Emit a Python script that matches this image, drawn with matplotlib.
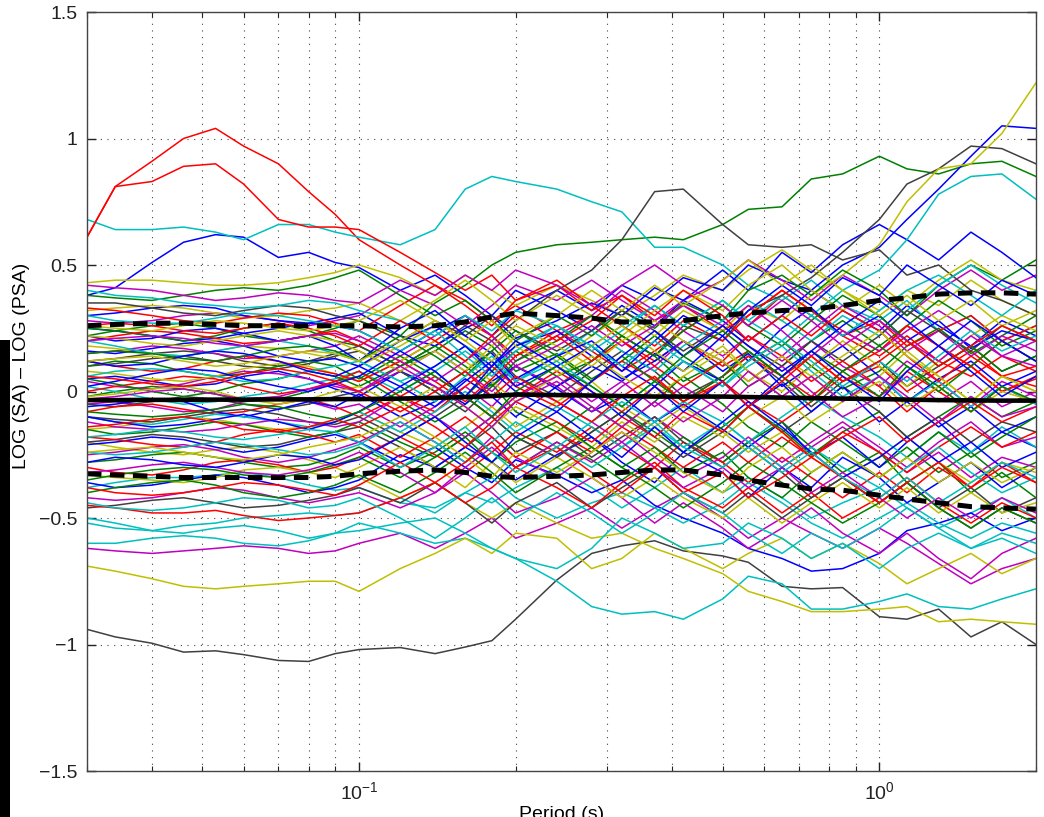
import matplotlib
matplotlib.use("Agg")
import matplotlib.pyplot as plt
from matplotlib.ticker import FixedLocator, NullFormatter, FuncFormatter
from matplotlib.patches import Rectangle

plt.rcParams['font.family'] = ['Liberation Sans', 'DejaVu Sans']
plt.rcParams['mathtext.fontset'] = 'custom'
plt.rcParams['mathtext.rm'] = 'Liberation Sans'
plt.rcParams['mathtext.it'] = 'Liberation Sans:italic'

# periods (s) where every residual curve is sampled
PERIODS = [0.03, 0.034, 0.04, 0.046, 0.053, 0.06, 0.07, 0.08, 0.09, 0.1,
           0.12, 0.14, 0.16, 0.18, 0.2, 0.24, 0.28, 0.32, 0.37, 0.42,
           0.5, 0.56, 0.65, 0.74, 0.85, 1.0, 1.13, 1.3, 1.5, 1.72, 2.0]

# residual curves, grouped by the MATLAB colour they were drawn in
blue_curves = [
    [0.38, 0.41, 0.51, 0.59, 0.62, 0.61, 0.53, 0.55, 0.51, 0.49, 0.40, 0.46, 0.38, 0.30, 0.40, 0.32, 0.24, 0.34, 0.26, 0.36, 0.28, 0.20, 0.30, 0.40, 0.32, 0.24, 0.34, 0.26, 0.18, 0.28, 0.22],
    [0.25, 0.24, 0.22, 0.20, 0.21, 0.23, 0.25, 0.27, 0.26, 0.24, 0.16, 0.24, 0.30, 0.22, 0.32, 0.40, 0.32, 0.42, 0.36, 0.45, 0.40, 0.50, 0.44, 0.40, 0.50, 0.57, 0.68, 0.80, 0.93, 1.05, 1.04],
    [0.30, 0.31, 0.33, 0.34, 0.33, 0.30, 0.28, 0.27, 0.29, 0.31, 0.22, 0.18, 0.25, 0.30, 0.21, 0.28, 0.35, 0.30, 0.41, 0.36, 0.48, 0.40, 0.55, 0.47, 0.58, 0.66, 0.60, 0.52, 0.63, 0.55, 0.45],
    [0.05, 0.06, 0.04, 0.02, 0.03, 0.06, 0.08, 0.05, 0.01, -0.02, 0.08, 0.02, -0.05, 0.04, 0.10, 0.01, -0.08, -0.02, -0.12, -0.05, -0.15, -0.22, -0.12, -0.25, -0.18, -0.30, -0.20, -0.12, -0.24, -0.16, -0.22],
    [-0.21, -0.20, -0.18, -0.19, -0.22, -0.24, -0.22, -0.19, -0.17, -0.20, -0.28, -0.22, -0.30, -0.36, -0.27, -0.33, -0.40, -0.35, -0.45, -0.50, -0.56, -0.62, -0.66, -0.71, -0.70, -0.64, -0.55, -0.52, -0.48, -0.55, -0.50],
    [0.16, 0.15, 0.17, 0.19, 0.20, 0.18, 0.14, 0.12, 0.13, 0.10, 0.20, 0.26, 0.18, 0.10, 0.18, 0.24, 0.14, 0.05, 0.12, 0.20, 0.08, 0.15, 0.02, 0.10, 0.18, 0.06, -0.04, 0.05, 0.12, 0.02, 0.08],
    [-0.06, -0.05, -0.03, -0.04, -0.08, -0.10, -0.07, -0.04, -0.06, -0.01, -0.10, -0.04, 0.05, -0.02, -0.10, 0.02, 0.10, 0.04, 0.15, 0.08, 0.22, 0.12, 0.25, 0.33, 0.22, 0.30, 0.20, 0.28, 0.17, 0.24, 0.20],
    [-0.36, -0.38, -0.37, -0.35, -0.33, -0.34, -0.37, -0.40, -0.38, -0.35, -0.25, -0.30, -0.22, -0.28, -0.35, -0.25, -0.18, -0.28, -0.36, -0.24, -0.32, -0.42, -0.30, -0.38, -0.26, -0.34, -0.44, -0.36, -0.28, -0.38, -0.30],
    [0.22, 0.20, 0.21, 0.24, 0.25, 0.23, 0.20, 0.22, 0.18, 0.12, 0.25, 0.32, 0.22, 0.15, 0.05, 0.14, 0.20, 0.10, 0.02, 0.12, 0.04, -0.06, 0.03, -0.08, 0.02, -0.12, -0.04, -0.14, -0.06, -0.16, -0.10],
    [-0.10, -0.12, -0.14, -0.13, -0.11, -0.09, -0.12, -0.15, -0.12, -0.08, 0.02, -0.06, 0.04, 0.12, 0.02, 0.10, 0.18, 0.08, 0.20, 0.30, 0.22, 0.32, 0.42, 0.34, 0.45, 0.38, 0.50, 0.42, 0.34, 0.44, 0.38],
    [0.12, 0.10, 0.11, 0.14, 0.16, 0.15, 0.12, 0.08, 0.06, 0.10, 0.02, 0.10, 0.18, 0.08, 0.00, -0.08, 0.04, 0.14, 0.24, 0.14, 0.26, 0.18, 0.08, 0.16, 0.26, 0.36, 0.28, 0.18, 0.28, 0.20, 0.12],
    [-0.28, -0.26, -0.27, -0.29, -0.30, -0.28, -0.25, -0.26, -0.29, -0.27, -0.18, -0.10, -0.20, -0.28, -0.18, -0.08, -0.18, -0.26, -0.14, -0.24, -0.12, -0.04, -0.14, -0.24, -0.34, -0.26, -0.18, -0.28, -0.20, -0.30, -0.24],
    [0.02, 0.04, 0.07, 0.09, 0.08, 0.05, 0.02, 0.00, 0.03, 0.06, 0.16, 0.08, -0.02, 0.10, 0.20, 0.10, 0.00, -0.10, 0.02, -0.08, 0.04, -0.06, 0.06, 0.16, 0.06, -0.04, 0.08, 0.18, 0.08, -0.02, 0.06],
]

green_curves = [
    [0.22, 0.24, 0.26, 0.27, 0.25, 0.22, 0.20, 0.22, 0.25, 0.28, 0.22, 0.35, 0.42, 0.50, 0.55, 0.58, 0.59, 0.60, 0.61, 0.60, 0.66, 0.72, 0.73, 0.84, 0.86, 0.93, 0.88, 0.86, 0.90, 0.91, 0.85],
    [0.25, 0.24, 0.22, 0.20, 0.22, 0.25, 0.27, 0.24, 0.20, 0.18, 0.10, 0.16, 0.24, 0.18, 0.08, 0.15, 0.05, 0.12, 0.22, 0.14, 0.04, 0.12, 0.20, 0.10, 0.01, 0.08, 0.18, 0.25, 0.15, 0.22, 0.30],
    [-0.02, 0.00, 0.02, 0.01, -0.01, -0.04, -0.03, 0.00, 0.04, 0.06, -0.04, -0.12, -0.05, 0.03, -0.08, -0.16, -0.06, -0.14, -0.04, 0.06, -0.05, -0.14, -0.22, -0.12, -0.20, -0.30, -0.22, -0.32, -0.24, -0.34, -0.28],
    [-0.28, -0.27, -0.25, -0.24, -0.26, -0.28, -0.30, -0.29, -0.26, -0.22, -0.30, -0.24, -0.16, -0.24, -0.30, -0.20, -0.27, -0.35, -0.26, -0.18, -0.28, -0.20, -0.12, -0.22, -0.32, -0.24, -0.36, -0.28, -0.40, -0.32, -0.42],
    [0.38, 0.37, 0.36, 0.38, 0.40, 0.41, 0.40, 0.42, 0.45, 0.48, 0.38, 0.30, 0.36, 0.28, 0.20, 0.30, 0.22, 0.32, 0.25, 0.35, 0.28, 0.40, 0.46, 0.38, 0.48, 0.40, 0.30, 0.42, 0.50, 0.44, 0.52],
    [0.10, 0.12, 0.11, 0.08, 0.06, 0.07, 0.10, 0.12, 0.10, 0.05, 0.14, 0.06, -0.02, 0.08, 0.16, 0.06, 0.12, 0.22, 0.14, 0.04, 0.12, 0.02, 0.10, 0.20, 0.28, 0.18, 0.26, 0.36, 0.28, 0.18, 0.24],
    [-0.15, -0.17, -0.16, -0.14, -0.12, -0.13, -0.16, -0.18, -0.16, -0.12, -0.20, -0.26, -0.18, -0.10, -0.18, -0.26, -0.16, -0.08, -0.16, -0.24, -0.14, -0.06, -0.15, -0.25, -0.16, -0.08, -0.18, -0.10, -0.02, -0.10, -0.04],
    [0.05, 0.03, 0.00, -0.02, 0.00, 0.03, 0.05, 0.08, 0.06, 0.02, 0.10, 0.18, 0.10, 0.02, 0.12, 0.20, 0.30, 0.22, 0.14, 0.24, 0.34, 0.26, 0.18, 0.28, 0.38, 0.30, 0.20, 0.10, 0.18, 0.08, 0.14],
    [-0.40, -0.38, -0.36, -0.35, -0.37, -0.40, -0.42, -0.40, -0.37, -0.33, -0.40, -0.32, -0.24, -0.32, -0.40, -0.30, -0.22, -0.30, -0.38, -0.46, -0.36, -0.28, -0.36, -0.44, -0.52, -0.44, -0.36, -0.46, -0.54, -0.46, -0.52],
    [0.15, 0.16, 0.15, 0.13, 0.12, 0.14, 0.17, 0.18, 0.16, 0.12, 0.22, 0.14, 0.06, 0.16, 0.24, 0.14, 0.04, 0.14, 0.04, -0.04, 0.06, 0.16, 0.06, -0.04, 0.08, -0.02, 0.10, 0.00, 0.10, 0.20, 0.12],
    [-0.35, -0.33, -0.31, -0.30, -0.31, -0.33, -0.34, -0.32, -0.29, -0.26, -0.34, -0.26, -0.18, -0.28, -0.20, -0.12, -0.22, -0.30, -0.22, -0.32, -0.24, -0.34, -0.42, -0.32, -0.24, -0.34, -0.26, -0.16, -0.26, -0.18, -0.10],
    [-0.08, -0.09, -0.10, -0.09, -0.07, -0.05, -0.06, -0.09, -0.11, -0.08, 0.00, 0.08, -0.02, -0.10, 0.00, 0.10, 0.02, -0.06, 0.04, 0.14, 0.24, 0.16, 0.06, 0.16, 0.08, 0.18, 0.10, 0.02, -0.08, 0.02, -0.04],
]

red_curves = [
    [0.61, 0.81, 0.91, 1.00, 1.04, 0.97, 0.90, 0.79, 0.70, 0.60, 0.50, 0.42, 0.36, 0.28, 0.34, 0.24, 0.30, 0.20, 0.12, 0.20, 0.10, 0.16, 0.06, 0.14, 0.04, 0.10, 0.00, 0.08, 0.16, 0.06, 0.02],
    [0.61, 0.81, 0.83, 0.89, 0.90, 0.82, 0.68, 0.65, 0.65, 0.64, 0.55, 0.47, 0.40, 0.46, 0.36, 0.42, 0.32, 0.38, 0.28, 0.34, 0.24, 0.30, 0.40, 0.32, 0.22, 0.28, 0.18, 0.24, 0.30, 0.20, 0.26],
    [0.20, 0.22, 0.24, 0.23, 0.21, 0.19, 0.20, 0.22, 0.24, 0.20, 0.12, 0.20, 0.28, 0.22, 0.14, 0.24, 0.16, 0.08, 0.16, 0.24, 0.34, 0.26, 0.38, 0.30, 0.22, 0.14, 0.22, 0.12, 0.06, 0.14, 0.08],
    [-0.08, -0.06, -0.05, -0.07, -0.09, -0.08, -0.05, -0.03, -0.06, -0.10, -0.02, 0.06, -0.02, -0.10, -0.02, 0.08, 0.00, -0.08, 0.02, -0.06, 0.04, -0.04, -0.12, -0.04, 0.06, -0.02, 0.08, 0.00, -0.08, 0.02, -0.05],
    [-0.30, -0.32, -0.33, -0.31, -0.28, -0.27, -0.29, -0.32, -0.30, -0.26, -0.18, -0.25, -0.32, -0.24, -0.16, -0.24, -0.14, -0.22, -0.30, -0.20, -0.28, -0.36, -0.26, -0.34, -0.42, -0.32, -0.40, -0.30, -0.38, -0.28, -0.36],
    [0.33, 0.32, 0.30, 0.28, 0.27, 0.29, 0.31, 0.30, 0.27, 0.24, 0.34, 0.42, 0.34, 0.26, 0.36, 0.44, 0.34, 0.26, 0.18, 0.28, 0.20, 0.30, 0.40, 0.32, 0.24, 0.16, 0.26, 0.18, 0.10, 0.20, 0.12],
    [0.00, 0.02, 0.04, 0.06, 0.05, 0.02, -0.01, 0.01, 0.04, 0.08, -0.02, -0.08, 0.02, 0.10, 0.02, -0.06, 0.04, 0.12, 0.05, -0.04, 0.06, 0.14, 0.06, -0.02, 0.08, 0.16, 0.26, 0.18, 0.10, 0.00, 0.06],
    [-0.45, -0.46, -0.48, -0.48, -0.47, -0.49, -0.51, -0.50, -0.49, -0.48, -0.42, -0.36, -0.44, -0.38, -0.30, -0.38, -0.46, -0.36, -0.28, -0.38, -0.46, -0.38, -0.48, -0.40, -0.50, -0.42, -0.34, -0.44, -0.52, -0.44, -0.50],
    [0.12, 0.10, 0.08, 0.09, 0.12, 0.14, 0.12, 0.09, 0.07, 0.04, 0.12, 0.04, -0.04, 0.05, 0.14, 0.22, 0.12, 0.20, 0.10, 0.02, 0.12, 0.22, 0.14, 0.04, 0.12, 0.02, -0.08, 0.02, 0.10, 0.00, 0.05],
    [-0.18, -0.19, -0.21, -0.22, -0.20, -0.17, -0.15, -0.17, -0.20, -0.17, -0.26, -0.18, -0.10, -0.18, -0.26, -0.16, -0.24, -0.14, -0.22, -0.30, -0.20, -0.28, -0.18, -0.26, -0.16, -0.24, -0.32, -0.22, -0.14, -0.22, -0.16],
    [0.26, 0.27, 0.26, 0.24, 0.23, 0.25, 0.27, 0.25, 0.22, 0.18, 0.28, 0.20, 0.12, 0.22, 0.30, 0.20, 0.28, 0.38, 0.30, 0.40, 0.30, 0.20, 0.30, 0.22, 0.32, 0.24, 0.14, 0.04, 0.14, 0.06, 0.10],
    [-0.14, -0.13, -0.11, -0.10, -0.12, -0.15, -0.16, -0.14, -0.11, -0.14, -0.06, -0.14, -0.22, -0.12, -0.04, -0.12, -0.20, -0.10, -0.18, -0.08, -0.16, -0.06, -0.16, -0.26, -0.18, -0.10, -0.20, -0.12, -0.04, -0.12, -0.06],
    [-0.38, -0.40, -0.41, -0.40, -0.38, -0.36, -0.37, -0.39, -0.41, -0.37, -0.28, -0.36, -0.28, -0.20, -0.30, -0.22, -0.32, -0.40, -0.30, -0.40, -0.32, -0.42, -0.34, -0.26, -0.34, -0.44, -0.36, -0.28, -0.38, -0.30, -0.36],
    [0.06, 0.05, 0.03, 0.02, 0.04, 0.07, 0.09, 0.07, 0.04, 0.00, -0.08, 0.00, 0.08, -0.02, 0.06, -0.04, -0.12, -0.02, 0.06, -0.04, 0.04, -0.06, 0.04, 0.14, 0.04, 0.12, 0.20, 0.10, 0.18, 0.26, 0.20],
]

cyan_curves = [
    [0.68, 0.64, 0.64, 0.65, 0.63, 0.60, 0.66, 0.66, 0.63, 0.61, 0.58, 0.64, 0.80, 0.85, 0.83, 0.80, 0.75, 0.71, 0.57, 0.57, 0.50, 0.42, 0.36, 0.44, 0.34, 0.28, 0.36, 0.24, 0.30, 0.20, 0.26],
    [-0.50, -0.52, -0.55, -0.56, -0.54, -0.53, -0.55, -0.58, -0.56, -0.52, -0.56, -0.60, -0.58, -0.62, -0.66, -0.75, -0.85, -0.88, -0.87, -0.90, -0.82, -0.73, -0.76, -0.86, -0.86, -0.83, -0.80, -0.85, -0.86, -0.82, -0.78],
    [0.02, 0.00, -0.03, -0.05, -0.04, -0.02, 0.00, 0.03, 0.05, 0.08, 0.00, 0.08, 0.16, 0.08, 0.18, 0.26, 0.16, 0.24, 0.34, 0.26, 0.36, 0.28, 0.38, 0.30, 0.40, 0.48, 0.60, 0.78, 0.85, 0.86, 0.76],
    [-0.38, -0.36, -0.34, -0.34, -0.33, -0.32, -0.34, -0.37, -0.39, -0.38, -0.44, -0.46, -0.40, -0.44, -0.38, -0.30, -0.38, -0.46, -0.38, -0.30, -0.40, -0.34, -0.42, -0.50, -0.44, -0.38, -0.46, -0.54, -0.48, -0.42, -0.50],
    [-0.52, -0.54, -0.55, -0.53, -0.52, -0.50, -0.49, -0.48, -0.49, -0.48, -0.42, -0.48, -0.40, -0.34, -0.42, -0.50, -0.44, -0.40, -0.46, -0.52, -0.44, -0.36, -0.44, -0.52, -0.58, -0.50, -0.44, -0.52, -0.58, -0.52, -0.56],
    [0.20, 0.18, 0.15, 0.14, 0.16, 0.18, 0.20, 0.18, 0.15, 0.12, 0.04, 0.10, 0.18, 0.12, 0.04, 0.14, 0.24, 0.16, 0.08, 0.18, 0.28, 0.36, 0.28, 0.20, 0.30, 0.22, 0.32, 0.42, 0.50, 0.42, 0.35],
    [-0.10, -0.12, -0.13, -0.11, -0.09, -0.10, -0.12, -0.14, -0.12, -0.08, -0.16, -0.08, 0.00, -0.08, -0.16, -0.06, -0.14, -0.22, -0.12, -0.04, -0.12, -0.20, -0.10, -0.02, -0.10, -0.18, -0.26, -0.16, -0.24, -0.14, -0.22],
    [0.40, 0.38, 0.37, 0.35, 0.34, 0.33, 0.34, 0.36, 0.35, 0.32, 0.28, 0.22, 0.30, 0.24, 0.32, 0.26, 0.18, 0.26, 0.34, 0.26, 0.36, 0.28, 0.20, 0.30, 0.22, 0.32, 0.40, 0.46, 0.38, 0.30, 0.40],
    [-0.60, -0.60, -0.58, -0.57, -0.58, -0.60, -0.61, -0.59, -0.56, -0.55, -0.52, -0.50, -0.56, -0.62, -0.66, -0.70, -0.62, -0.50, -0.56, -0.62, -0.60, -0.52, -0.58, -0.66, -0.60, -0.70, -0.62, -0.56, -0.62, -0.56, -0.60],
    [0.06, 0.08, 0.09, 0.08, 0.06, 0.04, 0.05, 0.08, 0.10, 0.12, 0.04, -0.04, 0.06, 0.14, 0.04, 0.12, 0.02, -0.06, 0.04, 0.12, 0.02, 0.10, 0.18, 0.08, -0.02, 0.06, -0.04, 0.04, -0.06, 0.02, -0.05],
    [-0.24, -0.25, -0.24, -0.22, -0.20, -0.21, -0.23, -0.25, -0.24, -0.21, -0.12, -0.20, -0.28, -0.20, -0.12, -0.22, -0.30, -0.22, -0.14, -0.22, -0.12, -0.20, -0.30, -0.22, -0.30, -0.38, -0.30, -0.22, -0.32, -0.40, -0.34],
    [0.30, 0.28, 0.27, 0.27, 0.29, 0.31, 0.30, 0.28, 0.26, 0.24, 0.16, 0.24, 0.14, 0.06, 0.16, 0.26, 0.18, 0.10, 0.20, 0.12, 0.02, 0.12, 0.20, 0.12, 0.02, 0.12, 0.04, 0.14, 0.24, 0.16, 0.22],
    [-0.18, -0.17, -0.15, -0.16, -0.18, -0.19, -0.17, -0.15, -0.16, -0.20, -0.30, -0.22, -0.14, -0.24, -0.32, -0.22, -0.12, -0.04, -0.12, -0.22, -0.30, -0.22, -0.32, -0.24, -0.34, -0.42, -0.34, -0.44, -0.36, -0.28, -0.34],
    [-0.44, -0.46, -0.47, -0.46, -0.44, -0.42, -0.43, -0.46, -0.45, -0.42, -0.50, -0.58, -0.50, -0.42, -0.50, -0.40, -0.48, -0.56, -0.48, -0.40, -0.48, -0.56, -0.64, -0.56, -0.62, -0.54, -0.46, -0.54, -0.62, -0.58, -0.64],
]

magenta_curves = [
    [-0.62, -0.63, -0.64, -0.63, -0.62, -0.61, -0.62, -0.64, -0.63, -0.60, -0.56, -0.62, -0.56, -0.50, -0.58, -0.52, -0.46, -0.54, -0.46, -0.40, -0.50, -0.58, -0.50, -0.56, -0.62, -0.54, -0.60, -0.68, -0.76, -0.70, -0.66],
    [0.28, 0.27, 0.28, 0.30, 0.31, 0.30, 0.28, 0.26, 0.28, 0.30, 0.40, 0.34, 0.26, 0.34, 0.42, 0.36, 0.44, 0.36, 0.28, 0.36, 0.44, 0.52, 0.44, 0.36, 0.46, 0.38, 0.30, 0.40, 0.48, 0.40, 0.46],
    [-0.05, -0.04, -0.06, -0.08, -0.07, -0.04, -0.02, -0.04, -0.07, -0.05, -0.14, -0.06, 0.02, -0.06, 0.04, -0.04, -0.12, -0.20, -0.10, -0.18, -0.28, -0.20, -0.30, -0.22, -0.14, -0.24, -0.32, -0.24, -0.34, -0.26, -0.30],
    [0.15, 0.16, 0.18, 0.17, 0.15, 0.13, 0.14, 0.16, 0.18, 0.22, 0.14, 0.22, 0.30, 0.22, 0.12, 0.22, 0.30, 0.40, 0.32, 0.24, 0.14, 0.22, 0.12, 0.20, 0.10, 0.02, 0.12, 0.04, -0.06, 0.04, -0.02],
    [-0.42, -0.43, -0.42, -0.40, -0.38, -0.39, -0.42, -0.44, -0.42, -0.40, -0.46, -0.40, -0.32, -0.40, -0.48, -0.42, -0.34, -0.42, -0.52, -0.44, -0.54, -0.62, -0.54, -0.46, -0.56, -0.64, -0.56, -0.66, -0.74, -0.64, -0.58],
    [0.04, 0.02, 0.01, 0.03, 0.06, 0.08, 0.07, 0.05, 0.02, 0.00, 0.08, 0.16, 0.08, 0.00, 0.10, 0.02, -0.08, 0.02, 0.10, 0.20, 0.12, 0.04, 0.14, 0.24, 0.34, 0.26, 0.16, 0.24, 0.14, 0.22, 0.16],
    [-0.25, -0.24, -0.22, -0.21, -0.23, -0.26, -0.28, -0.26, -0.23, -0.20, -0.12, -0.20, -0.28, -0.18, -0.26, -0.34, -0.24, -0.16, -0.26, -0.34, -0.26, -0.18, -0.28, -0.20, -0.12, -0.22, -0.30, -0.20, -0.12, -0.22, -0.18],
    [0.42, 0.41, 0.40, 0.38, 0.36, 0.37, 0.39, 0.38, 0.36, 0.35, 0.44, 0.38, 0.46, 0.40, 0.48, 0.42, 0.34, 0.42, 0.50, 0.42, 0.34, 0.26, 0.36, 0.28, 0.18, 0.28, 0.20, 0.12, 0.22, 0.14, 0.10],
    [-0.12, -0.14, -0.15, -0.16, -0.15, -0.13, -0.11, -0.12, -0.14, -0.12, -0.02, -0.10, -0.18, -0.10, -0.02, 0.06, -0.04, 0.04, -0.06, 0.02, -0.08, 0.02, 0.10, 0.00, -0.10, -0.02, 0.06, -0.04, 0.04, -0.06, 0.00],
    [0.20, 0.21, 0.22, 0.21, 0.19, 0.18, 0.20, 0.22, 0.23, 0.20, 0.12, 0.04, 0.12, 0.20, 0.10, 0.18, 0.26, 0.18, 0.26, 0.34, 0.26, 0.34, 0.24, 0.14, 0.24, 0.16, 0.24, 0.32, 0.24, 0.14, 0.20],
    [-0.32, -0.31, -0.29, -0.28, -0.30, -0.32, -0.33, -0.31, -0.28, -0.24, -0.32, -0.40, -0.30, -0.22, -0.30, -0.20, -0.28, -0.20, -0.30, -0.38, -0.30, -0.38, -0.30, -0.40, -0.32, -0.42, -0.50, -0.42, -0.50, -0.42, -0.48],
    [-0.03, -0.02, 0.00, 0.01, -0.01, -0.03, -0.02, 0.01, 0.03, 0.00, 0.10, 0.02, -0.06, -0.14, -0.04, 0.04, -0.06, -0.14, -0.04, -0.12, -0.02, 0.08, -0.02, 0.06, -0.04, 0.06, -0.02, -0.12, -0.02, -0.10, -0.06],
]

yellow_curves = [
    [0.43, 0.44, 0.44, 0.43, 0.42, 0.42, 0.43, 0.45, 0.47, 0.50, 0.45, 0.38, 0.46, 0.40, 0.34, 0.42, 0.36, 0.30, 0.38, 0.46, 0.40, 0.48, 0.56, 0.48, 0.40, 0.32, 0.40, 0.34, 0.44, 0.36, 0.30],
    [-0.69, -0.71, -0.74, -0.77, -0.78, -0.77, -0.76, -0.75, -0.75, -0.79, -0.70, -0.64, -0.58, -0.64, -0.56, -0.58, -0.70, -0.66, -0.56, -0.62, -0.70, -0.64, -0.58, -0.66, -0.60, -0.68, -0.76, -0.70, -0.64, -0.72, -0.66],
    [-0.20, -0.22, -0.24, -0.25, -0.23, -0.22, -0.24, -0.27, -0.30, -0.34, -0.42, -0.36, -0.44, -0.50, -0.44, -0.52, -0.58, -0.56, -0.62, -0.66, -0.72, -0.79, -0.83, -0.87, -0.87, -0.86, -0.85, -0.91, -0.90, -0.91, -0.92],
    [0.18, 0.17, 0.15, 0.14, 0.16, 0.18, 0.17, 0.15, 0.13, 0.10, 0.18, 0.26, 0.18, 0.10, 0.20, 0.12, 0.22, 0.30, 0.22, 0.32, 0.24, 0.34, 0.28, 0.38, 0.46, 0.58, 0.75, 0.88, 0.90, 1.02, 1.22],
    [0.32, 0.33, 0.34, 0.33, 0.31, 0.29, 0.30, 0.32, 0.33, 0.35, 0.28, 0.36, 0.44, 0.36, 0.28, 0.38, 0.30, 0.22, 0.32, 0.40, 0.32, 0.42, 0.50, 0.40, 0.32, 0.42, 0.34, 0.44, 0.52, 0.44, 0.40],
    [-0.15, -0.14, -0.12, -0.10, -0.11, -0.13, -0.15, -0.14, -0.12, -0.08, -0.16, -0.22, -0.14, -0.06, -0.14, -0.04, 0.04, -0.06, -0.14, -0.06, -0.16, -0.24, -0.16, -0.26, -0.34, -0.26, -0.18, -0.28, -0.36, -0.28, -0.32],
    [0.08, 0.07, 0.05, 0.04, 0.06, 0.09, 0.11, 0.10, 0.07, 0.04, 0.12, 0.20, 0.12, 0.04, -0.04, 0.06, 0.14, 0.06, -0.02, 0.06, 0.16, 0.08, 0.00, 0.10, 0.20, 0.10, 0.02, 0.12, 0.22, 0.30, 0.24],
    [-0.33, -0.34, -0.35, -0.36, -0.34, -0.31, -0.30, -0.32, -0.34, -0.30, -0.22, -0.30, -0.38, -0.28, -0.36, -0.26, -0.34, -0.42, -0.34, -0.42, -0.50, -0.42, -0.52, -0.44, -0.36, -0.46, -0.38, -0.48, -0.40, -0.48, -0.44],
    [0.22, 0.21, 0.19, 0.18, 0.20, 0.22, 0.24, 0.22, 0.20, 0.16, 0.08, 0.16, 0.08, 0.18, 0.26, 0.18, 0.10, 0.20, 0.28, 0.20, 0.12, 0.04, 0.14, 0.06, -0.04, 0.06, 0.16, 0.06, -0.04, 0.06, 0.00],
    [-0.02, -0.01, 0.01, 0.02, 0.00, -0.03, -0.05, -0.03, 0.00, 0.02, -0.06, 0.02, -0.06, -0.14, -0.06, -0.14, -0.22, -0.12, -0.20, -0.10, -0.18, -0.10, -0.02, -0.12, -0.04, 0.04, -0.06, 0.02, -0.08, 0.00, -0.04],
    [0.12, 0.13, 0.14, 0.12, 0.10, 0.11, 0.14, 0.16, 0.15, 0.12, 0.20, 0.28, 0.20, 0.28, 0.18, 0.08, 0.18, 0.26, 0.16, 0.08, 0.18, 0.08, -0.02, 0.06, 0.14, 0.24, 0.14, 0.06, -0.04, 0.06, 0.00],
    [-0.24, -0.23, -0.22, -0.24, -0.26, -0.27, -0.25, -0.22, -0.20, -0.18, -0.10, -0.18, -0.26, -0.34, -0.24, -0.32, -0.24, -0.16, -0.24, -0.32, -0.40, -0.30, -0.22, -0.32, -0.24, -0.34, -0.26, -0.36, -0.28, -0.36, -0.30],
    [0.26, 0.25, 0.24, 0.26, 0.28, 0.27, 0.25, 0.24, 0.26, 0.28, 0.36, 0.28, 0.20, 0.12, 0.22, 0.30, 0.40, 0.32, 0.42, 0.34, 0.44, 0.52, 0.42, 0.50, 0.40, 0.30, 0.38, 0.28, 0.36, 0.26, 0.32],
]

gray_curves = [
    [-0.94, -0.97, -0.995, -1.03, -1.025, -1.04, -1.063, -1.067, -1.036, -1.02, -1.012, -1.036, -1.01, -0.985, -0.90, -0.745, -0.64, -0.61, -0.59, -0.63, -0.65, -0.675, -0.77, -0.78, -0.775, -0.89, -0.90, -0.86, -0.97, -0.91, -1.0],
    [0.12, 0.13, 0.15, 0.16, 0.15, 0.12, 0.10, 0.12, 0.15, 0.18, 0.10, 0.18, 0.26, 0.20, 0.28, 0.40, 0.48, 0.60, 0.79, 0.80, 0.66, 0.58, 0.57, 0.58, 0.52, 0.56, 0.46, 0.50, 0.40, 0.36, 0.30],
    [-0.05, -0.06, -0.04, -0.02, -0.03, -0.05, -0.07, -0.05, -0.02, 0.00, 0.08, 0.00, -0.08, 0.02, 0.10, 0.02, 0.12, 0.22, 0.14, 0.26, 0.20, 0.32, 0.38, 0.45, 0.55, 0.68, 0.82, 0.88, 0.97, 0.96, 0.90],
    [0.10, 0.11, 0.13, 0.14, 0.12, 0.10, 0.09, 0.11, 0.14, 0.16, 0.08, 0.00, 0.08, 0.16, 0.06, -0.02, 0.08, 0.16, 0.08, -0.02, 0.06, 0.14, 0.04, -0.06, 0.04, 0.12, 0.02, 0.10, 0.18, 0.08, 0.14],
    [-0.20, -0.19, -0.17, -0.18, -0.20, -0.22, -0.21, -0.18, -0.16, -0.14, -0.22, -0.30, -0.22, -0.14, -0.24, -0.16, -0.26, -0.18, -0.10, -0.20, -0.30, -0.22, -0.32, -0.42, -0.34, -0.44, -0.36, -0.46, -0.38, -0.48, -0.42],
    [0.35, 0.35, 0.33, 0.31, 0.30, 0.32, 0.34, 0.33, 0.30, 0.28, 0.20, 0.28, 0.22, 0.30, 0.24, 0.16, 0.24, 0.32, 0.24, 0.16, 0.26, 0.18, 0.10, 0.20, 0.12, 0.22, 0.32, 0.24, 0.16, 0.26, 0.20],
    [-0.46, -0.45, -0.43, -0.42, -0.44, -0.46, -0.45, -0.43, -0.41, -0.38, -0.44, -0.36, -0.44, -0.52, -0.44, -0.36, -0.46, -0.38, -0.30, -0.40, -0.48, -0.40, -0.50, -0.42, -0.34, -0.44, -0.36, -0.46, -0.54, -0.46, -0.52],
    [-0.10, -0.11, -0.12, -0.10, -0.08, -0.07, -0.09, -0.12, -0.13, -0.10, -0.18, -0.10, -0.02, -0.10, -0.18, -0.26, -0.16, -0.08, -0.18, -0.26, -0.16, -0.06, -0.16, -0.08, 0.02, -0.08, -0.18, -0.10, -0.20, -0.12, -0.16],
]

# mean residual and mean +/- one standard deviation
MEAN = [-0.034, -0.034, -0.033, -0.033, -0.032, -0.032, -0.031, -0.031, -0.030, -0.030,
        -0.028, -0.025, -0.022, -0.018, -0.012, -0.014, -0.016, -0.018, -0.020, -0.020,
        -0.020, -0.022, -0.024, -0.026, -0.028, -0.030, -0.032, -0.034, -0.035, -0.036, -0.036]
SIGMA_UP = [0.26, 0.265, 0.27, 0.27, 0.265, 0.26, 0.26, 0.26, 0.26, 0.26,
            0.255, 0.26, 0.275, 0.295, 0.31, 0.30, 0.29, 0.275, 0.275, 0.28,
            0.30, 0.31, 0.32, 0.325, 0.34, 0.36, 0.37, 0.385, 0.39, 0.39, 0.385]
SIGMA_DN = [-0.325, -0.33, -0.335, -0.34, -0.34, -0.34, -0.34, -0.34, -0.335, -0.325,
            -0.315, -0.31, -0.32, -0.335, -0.34, -0.335, -0.33, -0.32, -0.31, -0.31,
            -0.33, -0.35, -0.37, -0.385, -0.39, -0.41, -0.425, -0.44, -0.455, -0.46, -0.465]

# MATLAB's old default colour order: b, g, r, c, m, y, k
groups = [
    (blue_curves, (0.0, 0.0, 1.0)),
    (green_curves, (0.0, 0.5, 0.0)),
    (red_curves, (1.0, 0.0, 0.0)),
    (cyan_curves, (0.0, 0.75, 0.75)),
    (magenta_curves, (0.75, 0.0, 0.75)),
    (yellow_curves, (0.75, 0.75, 0.0)),
    (gray_curves, (0.25, 0.25, 0.25)),
]

fig = plt.figure(figsize=(10.44, 8.17), dpi=100)
ax = fig.add_axes([0.0833, 0.0563, 0.9090, 0.9290])

# interleave the colours the way a matrix plot cycles through them
n_max = max(len(g) for g, _ in groups)
for i in range(n_max):
    for curves, col in groups:
        if i < len(curves):
            ax.plot(PERIODS, curves[i], color=col, lw=1.1)

ax.plot(PERIODS, MEAN, color='black', lw=3.3)
ax.plot(PERIODS, SIGMA_UP, color='black', lw=3.6, dashes=(2.9, 1.7))
ax.plot(PERIODS, SIGMA_DN, color='black', lw=3.6, dashes=(2.9, 1.7))

ax.set_xscale('log')
ax.set_xlim(0.03, 2.0)
ax.set_ylim(-1.5, 1.5)
ax.yaxis.set_major_locator(FixedLocator([-1.5, -1, -0.5, 0, 0.5, 1, 1.5]))
ax.yaxis.set_major_formatter(FuncFormatter(lambda v, p: ('%g' % v).replace('-', '\u2212')))
ax.xaxis.set_minor_formatter(NullFormatter())

grid_style = dict(color='#444444', linestyle=(0, (1, 5)), lw=0.8)
ax.grid(True, which='major', axis='both', **grid_style)
ax.grid(True, which='minor', axis='x', **grid_style)

ax.tick_params(which='both', direction='in', top=True, right=True,
               labelsize=14, colors='#222222')
ax.tick_params(which='major', length=6.5, width=1.0, pad=7)
ax.tick_params(which='minor', length=3.5, width=0.8)
for sp in ax.spines.values():
    sp.set_color('#444444')
    sp.set_linewidth(1.0)

ax.set_ylabel('LOG (SA) \u2013 LOG (PSA)', fontsize=14)
ax.yaxis.set_label_coords(-0.060, 0.534)
ax.set_xlabel('Period (s)', fontsize=14)
ax.xaxis.set_label_coords(0.5, -0.046)

# edge of the neighbouring panel, cut by the crop
fig.patches.append(Rectangle((0, 0), 10 / 1044, 477 / 817, transform=fig.transFigure,
                             facecolor='black', edgecolor='none'))

fig.savefig('out.png', dpi=100)
